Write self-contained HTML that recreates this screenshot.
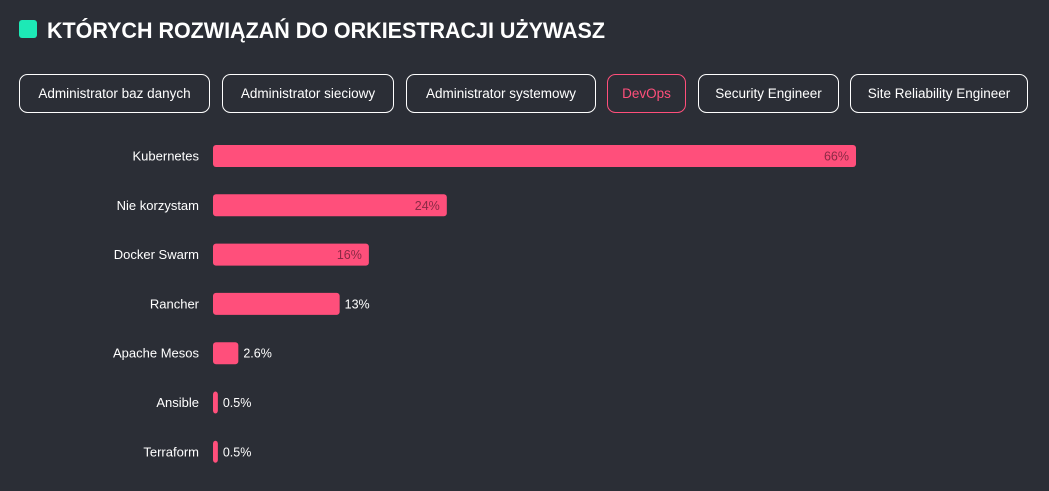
<!DOCTYPE html>
<html><head><meta charset="utf-8"><style>
html,body{margin:0;padding:0;background:#2b2e36;}
svg{display:block;font-family:"Liberation Sans",sans-serif;}
</style></head><body>
<svg id="c" width="1049" height="491" viewBox="0 0 1049 491">
<rect width="1049" height="491" fill="#2b2e36"/>
<rect x="19" y="20" width="18" height="18" rx="3" fill="#1de9b6"/>
<text x="47" y="38" fill="#ffffff" font-size="22" font-weight="bold" textLength="558" lengthAdjust="spacingAndGlyphs">KTÓRYCH ROZWIĄZAŃ DO ORKIESTRACJI UŻYWASZ</text>
<g id="tabs"></g>
<g id="bars"></g>
</svg>
<script>
const categories=["Kubernetes","Nie korzystam","Docker Swarm","Rancher","Apache Mesos","Ansible","Terraform"];
const values=[66,24,16,13,2.6,0.5,0.5];
const valueLabels=["66%","24%","16%","13%","2.6%","0.5%","0.5%"];
const tabs=["Administrator baz danych","Administrator sieciowy","Administrator systemowy","DevOps","Security Engineer","Site Reliability Engineer"];
const activeTab="DevOps";
const NS="http://www.w3.org/2000/svg";
function mk(t,a,p){const e=document.createElementNS(NS,t);for(const k in a)e.setAttribute(k,a[k]);p.appendChild(e);return e;}
// tabs
const tg=document.getElementById('tabs');
const tabX=[19,222,406,607,698,850],tabW=[191,172,190,79,141,178];
tabs.forEach((t,i)=>{
  const g=mk('g',{},tg);
  
  
  const act=t===activeTab;
  mk('rect',{x:tabX[i]+0.5,y:74.5,width:tabW[i]-1,height:38,rx:8,fill:'none',stroke:act?'#ff4f7b':'#ffffff','stroke-width':1},g);
  const tx=mk('text',{x:tabX[i]+tabW[i]/2,y:98,'text-anchor':'middle','font-size':13.5,fill:act?'#ff4f7b':'#ffffff'},g);
  tx.textContent=t;
});
// bars
const bg=document.getElementById('bars');
const x0=213,xMax=856,vMax=66;
const xs=v=>x0+(xMax-x0)*v/vMax;
const y0=156,step=49.3,bh=22;
categories.forEach((c,i)=>{
  const cy=y0+i*step;
  const g=mk('g',{},bg);
  
  
  const l=mk('text',{x:199,y:cy+4.5,'text-anchor':'end','font-size':13,fill:'#ffffff'},g);
  l.textContent=c;
  const w=Math.max(xs(values[i])-x0,4);
  const r=mk('rect',{x:x0,y:cy-bh/2,width:w,height:bh,rx:3,fill:'#ff4f7b'},g);
  
  
  const inside=w>150;
  const v=mk('text',{x:inside?x0+w-7:x0+w+5,y:cy+4.5,'text-anchor':inside?'end':'start','font-size':12.5,fill:inside?'#8a2a45':'#ffffff'},g);
  v.textContent=valueLabels[i];
});
</script>
</body></html>
